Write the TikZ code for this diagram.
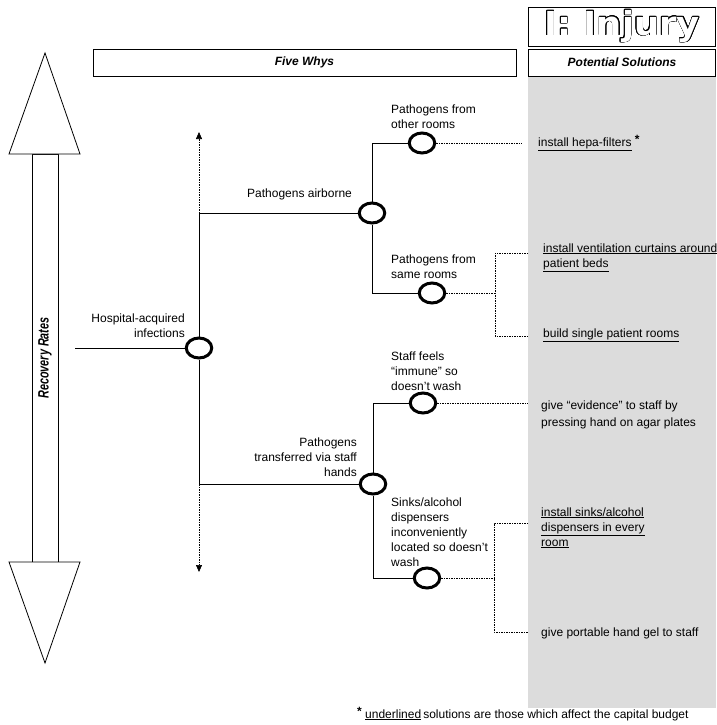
\documentclass[tikz,border=0pt]{standalone}
\usepackage{fontspec}
\setmainfont{Liberation Sans}
\newfontfamily\injfont{DejaVu Sans}
\usepackage[copies]{contour}
\usetikzlibrary{arrows.meta,shapes.geometric}
\definecolor{panelgray}{RGB}{220,220,220}
\begin{document}
\begin{tikzpicture}[x=1pt,y=-1pt,
  every node/.style={inner sep=0pt, font=\fontsize{12}{15}\selectfont},
  whynode/.style={ellipse, draw, line width=3pt, fill=white, minimum width=25.5pt, minimum height=20pt},
  txt/.style={anchor=base west, align=left},
  txtr/.style={anchor=base east, align=right},
  conn/.style={line width=0.9pt},
  dotline/.style={dash pattern=on 1.5pt off 1pt, line width=0.7pt},
  hdr/.style={draw, line width=0.7pt, minimum height=27pt},
  bigarrow/.style={draw, line width=0.8pt, fill=white, line join=miter}]
\useasboundingbox (0,0) rectangle (716,725);
% gray panel
\fill[panelgray] (528,76) rectangle (716,708);
% headers
\node[hdr, minimum width=187pt, minimum height=39pt] (injury) at (622,26.5)
  {\contourlength{0.6pt}\contour{black}{\textcolor{white}{\scalebox{1.07}[1]{\injfont\fontsize{33}{33}\selectfont\bfseries I: Injury}}}};
\node[hdr, minimum width=423pt] (fivewhys) at (304.5,62.5) {\bfseries\itshape Five Whys};
\node[hdr, minimum width=187pt] (potsol) at (622,62.5) {\bfseries\itshape Potential Solutions};
% big double arrow
\draw[bigarrow] (32,154) rectangle (58,562);
\draw[bigarrow] (45,53) -- (80,154) -- (9,154) -- cycle;
\draw[bigarrow] (45,663) -- (80,562) -- (9,562) -- cycle;
\node[rotate=90] (recov) at (45,358) {\scalebox{0.72}[1]{\fontsize{15}{15}\selectfont\bfseries\itshape Recovery Rates}};
% coordinates
\coordinate (start) at (75,348);
\coordinate (j1) at (199,213);
\coordinate (j2) at (199,484);
\coordinate (uptip) at (199,132);
\coordinate (downtip) at (199,572);
\coordinate (hepaend) at (522,143);
\coordinate (d1) at (495,293);
\coordinate (d1t) at (495,253);
\coordinate (d1b) at (495,336);
\coordinate (d1te) at (528,253);
\coordinate (d1be) at (528,336);
\coordinate (staffend) at (528,403);
\coordinate (d2) at (494,578);
\coordinate (d2t) at (494,523);
\coordinate (d2b) at (494,632);
\coordinate (d2te) at (528,523);
\coordinate (d2be) at (528,632);
% why nodes (ellipses)
\node[whynode] (hai) at (199,348) {};
\node[whynode] (air) at (372,213) {};
\node[whynode] (other) at (422,143) {};
\node[whynode] (same) at (432,293) {};
\node[whynode] (trans) at (373,484) {};
\node[whynode] (staff) at (423,403) {};
\node[whynode] (sinks) at (427,578) {};
% solid connectors
\draw[conn] (start) -- (hai.west);
\draw[conn] (j1) -- (hai.north);
\draw[conn] (hai.south) -- (j2);
\draw[conn] (j1) -- (air.west);
\draw[conn] (j2) -- (trans.west);
\draw[conn] (air.north) |- (other.west);
\draw[conn] (air.south) |- (same.west);
\draw[conn] (trans.north) |- (staff.west);
\draw[conn] (trans.south) |- (sinks.west);
% dashed connectors
\draw[dotline, -{Triangle[width=6pt,length=7pt]}] (j1) -- (uptip);
\draw[dotline, -{Triangle[width=6pt,length=7pt]}] (j2) -- (downtip);
\draw[dotline] (other.east) -- (hepaend);
\draw[dotline] (same.east) -- (d1);
\draw[dotline] (d1te) -- (d1t) -- (d1b) -- (d1be);
\draw[dotline] (staff.east) -- (staffend);
\draw[dotline] (sinks.east) -- (d2);
\draw[dotline] (d2te) -- (d2t) -- (d2b) -- (d2be);
% why texts (base anchor = baseline of last line)
\node[txtr] (thai) at (185,337) {Hospital-acquired\\infections};
\node[txt] (tair) at (247,197) {Pathogens airborne};
\node[txt] (tother) at (391,128) {Pathogens from\\other rooms};
\node[txt] (tsame) at (391,278) {Pathogens from\\same rooms};
\node[txtr] (ttrans) at (357,476) {Pathogens\\transferred via staff\\hands};
\node[txt] (tstaff) at (391,390) {Staff feels\\“immune” so\\doesn’t wash};
\node[txt] (tsinks) at (391,566) {Sinks/alcohol\\dispensers\\inconveniently\\located so doesn’t\\wash};
% solutions
\node[txt] (shepa) at (538,146) {\underline{install hepa-filters} \raisebox{3pt}{\bfseries *}};
\node[txt] (svent) at (543,267) {\underline{install ventilation curtains around}\\\underline{patient beds}};
\node[txt] (ssingle) at (543,337) {\underline{build single patient rooms}};
\node[txt, font=\fontsize{12}{17}\selectfont] (sevid) at (541,426) {give “evidence” to staff by\\pressing hand on agar plates};
\node[txt] (ssinks) at (541,546) {\underline{install sinks/alcohol}\\\underline{dispensers in every}\\\underline{room}};
\node[txt] (sgel) at (541,636) {give portable hand gel to staff};
% footnote
\node[txt, font=\fontsize{12}{13}\selectfont] (foot) at (357,718) {\raisebox{3pt}{\bfseries *} \underline{underlined}\,solutions are those which affect the capital budget};
\end{tikzpicture}
\end{document}
